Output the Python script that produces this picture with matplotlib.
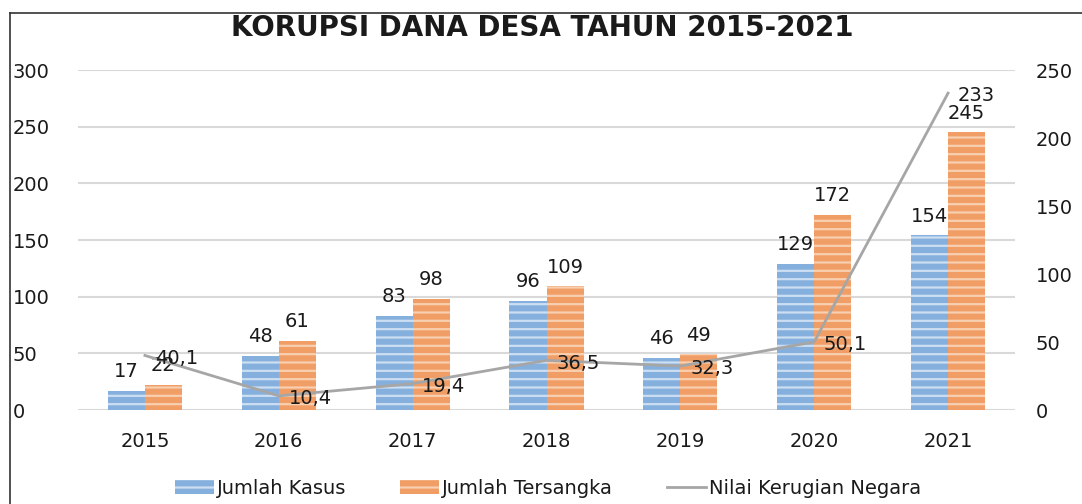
import matplotlib
matplotlib.use("Agg")
import matplotlib.pyplot as plt
from matplotlib.lines import Line2D
from matplotlib.patches import Patch
import numpy as np

years = ["2015", "2016", "2017", "2018", "2019", "2020", "2021"]
jumlah_kasus = [17, 48, 83, 96, 46, 129, 154]
jumlah_tersangka = [22, 61, 98, 109, 49, 172, 245]
nilai_kerugian = [40.1, 10.4, 19.4, 36.5, 32.3, 50.1, 233]
left_ticks = [0, 50, 100, 150, 200, 250, 300]
right_ticks = [0, 50, 100, 150, 200, 250]

BLUE = "#85B0DD"
BLUE_STRIPE = "#CCDEF2"
ORANGE = "#F09E65"
ORANGE_STRIPE = "#F8CFB0"
GRAY = "#A6A6A6"
TXT = "#1a1a1a"
FONT = "DejaVu Sans"

plt.rcParams["font.family"] = [FONT]
plt.rcParams["hatch.linewidth"] = 1.6

W, H = 1082, 504
fig = plt.figure(figsize=(W / 100, H / 100), dpi=100)
ax = fig.add_axes([78 / W, 1 - 410 / H, (1015 - 78) / W, (410 - 70) / H])
ax2 = ax.twinx()

x = np.arange(len(years))
w = 0.277

b1 = ax.bar(x - w / 2, jumlah_kasus, w, color=BLUE, edgecolor=BLUE_STRIPE,
            linewidth=0, hatch="--", zorder=3)
b2 = ax.bar(x + w / 2, jumlah_tersangka, w, color=ORANGE, edgecolor=ORANGE_STRIPE,
            linewidth=0, hatch="--", zorder=3)

ax.set_xlim(-0.5, len(years) - 0.5)
ax.set_ylim(0, 300)
ax.set_yticks(left_ticks)
ax.set_xticks(x)
ax.set_xticklabels(years)
ax.grid(axis="y", color="#D9D9D9", linewidth=1.5, zorder=0)
ax.set_axisbelow(True)
for s in ax.spines.values():
    s.set_visible(False)
for s in ax2.spines.values():
    s.set_visible(False)
ax.tick_params(axis="both", length=0, labelsize=14, colors=TXT)
ax.tick_params(axis="x", pad=16)
for lab in ax.get_yticklabels():
    lab.set_horizontalalignment("left")
ax.yaxis.set_tick_params(pad=47)

ax.bar_label(b1, labels=[str(v) for v in jumlah_kasus], padding=7, fontsize=14, color=TXT)
ax.bar_label(b2, labels=[str(v) for v in jumlah_tersangka], padding=7, fontsize=14, color=TXT)

ax2.plot(x, nilai_kerugian, color=GRAY, linewidth=2, zorder=4)
ax2.set_ylim(0, 250)
ax2.set_yticks(right_ticks)
ax2.tick_params(axis="y", length=0, labelsize=14, colors=TXT, pad=15)
for xi, v in zip(x, nilai_kerugian):
    s = (f"{v:g}").replace(".", ",")
    ax2.annotate(s, (xi, v), xytext=(7, -2), textcoords="offset points",
                 ha="left", va="center", fontsize=14, color=TXT, zorder=5)

ax.set_zorder(1)
ax2.set_zorder(2)
ax2.patch.set_visible(False)

fig.text(542 / W, 1 - 28 / H, "KORUPSI DANA DESA TAHUN 2015-2021", ha="center",
         va="center", fontsize=20, fontweight="bold", color=TXT)

handles = [
    Patch(facecolor=BLUE, edgecolor=BLUE_STRIPE, linewidth=0, hatch="--"),
    Patch(facecolor=ORANGE, edgecolor=ORANGE_STRIPE, linewidth=0, hatch="--"),
    Line2D([0], [0], color=GRAY, linewidth=2),
]
fig.legend(handles, ["Jumlah Kasus", "Jumlah Tersangka", "Nilai Kerugian Negara"],
           loc="center", bbox_to_anchor=(548 / W, 1 - 488 / H), ncol=3, frameon=False,
           fontsize=14, handlelength=2.0, handletextpad=0.15, columnspacing=2.8,
           labelcolor=TXT)

# frame lines
fig.add_artist(Line2D([10 / W, 1.0], [1 - 13 / H, 1 - 13 / H], color="#333333",
                      linewidth=1.2, transform=fig.transFigure))
fig.add_artist(Line2D([10 / W, 10 / W], [1 - 13 / H, 0], color="#333333",
                      linewidth=1.2, transform=fig.transFigure))

fig.savefig("out.png", dpi=100)
